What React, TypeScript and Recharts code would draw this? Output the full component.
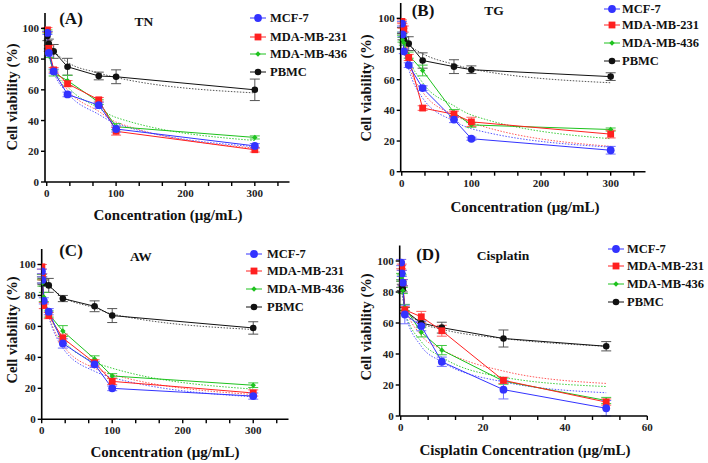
import React from 'react';
import { ComposedChart, Line, XAxis, YAxis, ErrorBar } from 'recharts';

const seriesNames = ['MCF-7', 'MDA-MB-231', 'MDA-MB-436', 'PBMC'];
const colors = ['#3333ff', '#ff2020', '#1ec21e', '#111111'];
const fitColors = ['#5a5aff', '#ff5a5a', '#3ccc3c', '#555555'];
const errColors = ['#7070ff', '#ff6060', '#40c840', '#555555'];
const FONT = '"Liberation Serif", "DejaVu Serif", serif';

// ---------- Panel A (TN) ----------
const concA = [1, 3, 10, 30, 75, 100, 300];
const tnMCF7 = [97, 84, 72, 57, 50, 34.5, 23.5];
const tn231 = [99, 87, 73, 64, 53.5, 33, 21];
const tn436 = [98, 83, 71, 66, 52, 36, 29];
const tnPBMC = [95, 90, 85, 75, 69, 68.5, 60];
const tnMCF7Err = [1, 2, 1.5, 1.5, 2, 2, 1.5];
const tn231Err = [1.5, 2, 1.5, 2, 1.5, 2.5, 1.5];
const tn436Err = [1, 2, 2, 3.5, 1.5, 2, 1];
const tnPBMCErr = [3, 3, 4.5, 5.5, 2.5, 4.5, 7];
const tnMCF7Fit = [95, 86, 72, 58, 44, 38, 23];
const tn231Fit = [97, 88, 74, 60, 46, 39, 22];
const tn436Fit = [96, 87, 74, 62, 48, 42, 27];
const tnPBMCFit = [95, 91, 86, 78, 71, 68, 58];

// ---------- Panel B (TG) ----------
const concB = [0.3, 1, 3, 10, 30, 75, 100, 300];
const tgMCF7 = [96.5, 89.5, 78.5, 69.5, 54.5, 34, 21.5, 14];
const tg231 = [98, 95, 93, 74.5, 41.5, 37.5, 32.5, 24.5];
const tg436 = [90, 86, 84, 76, 66, 38.5, 30.5, 27.5];
const tgPBMC = [92, 88, 86, 83.5, 72.5, 68.5, 66.5, 62];
const tgMCF7Err = [1.5, 1.5, 1.5, 1.5, 1.5, 2, 1, 2.5];
const tg231Err = [1, 1.5, 2, 2, 1.5, 2, 3, 2.5];
const tg436Err = [1, 1.5, 1.5, 2, 3.5, 2, 1.5, 1];
const tgPBMCErr = [2, 2, 2, 4.5, 5, 4.5, 2.5, 2.5];
const tgMCF7Fit = [96, 90, 80, 67, 48, 33, 28, 16];
const tg231Fit = [97, 93, 84, 70, 52, 37, 32, 16.5];
const tg436Fit = [92, 89, 84, 74, 58, 43, 37, 21.5];
const tgPBMCFit = [92, 90, 87, 83, 77, 70, 67, 58];

// ---------- Panel C (AW) ----------
const concC = [0.3, 1, 3, 10, 30, 75, 100, 300];
const awMCF7 = [95.5, 90, 76.5, 69.5, 49, 35.5, 20, 15];
const aw231 = [98.5, 92, 73.5, 67, 52.5, 36.5, 24.5, 17];
const aw436 = [92, 88, 79, 68, 57, 39, 28, 22];
const awPBMC = [90, 89, 88, 86.5, 78, 73, 67, 59];
const awMCF7Err = [1.5, 2, 2, 2, 3, 2, 1.5, 2];
const aw231Err = [1.5, 2, 2, 2, 2.5, 2, 2, 2];
const aw436Err = [1.5, 2, 3, 2, 3.5, 2, 1.5, 1.5];
const awPBMCErr = [2, 2, 2, 4.5, 2, 3.5, 4.5, 4];
const awMCF7Fit = [94, 88, 78, 66, 46, 31, 27, 14.5];
const aw231Fit = [96, 90, 79, 67, 48, 33, 29, 16];
const aw436Fit = [94, 89, 80, 69, 52, 37, 33, 19.5];
const awPBMCFit = [90, 89, 88, 86, 79, 72, 68, 58];

// ---------- Panel D (Cisplatin) ----------
const concD = [0.1, 0.25, 0.5, 1, 5, 10, 25, 50];
const cpMCF7 = [99, 92, 86, 65.5, 58, 35, 17, 5];
const cp231 = [98, 96, 86, 68.5, 64, 55, 23, 9];
const cp436 = [90, 89, 81, 70, 54, 42.5, 22.5, 10];
const cpPBMC = [85, 83, 82, 68, 60, 57, 50, 45];
const cpMCF7Err = [2, 2, 2, 6, 3, 3, 6, 5];
const cp231Err = [3, 2, 2, 2, 3.5, 3.5, 2, 2];
const cp436Err = [2, 2, 2, 2, 3, 3, 2, 2];
const cpPBMCErr = [2, 2, 2, 2, 2, 3.5, 5.5, 3];
const cpMCF7Fit = [95, 88, 80, 67, 45, 35, 22, 15];
const cp231Fit = [97, 92, 85, 72, 52, 43, 29, 21];
const cp436Fit = [95, 89, 81, 68, 48, 38, 25, 19];
const cpPBMCFit = [85, 80, 76, 70, 60, 56, 50, 45];

const yTicks = [0, 20, 40, 60, 80, 100];
const xTicksConc = [0, 100 / 3, 200 / 3, 100, 400 / 3, 500 / 3, 200, 700 / 3, 800 / 3, 300, 1000 / 3];
const xTicksCis = [0, 20 / 3, 40 / 3, 20, 80 / 3, 100 / 3, 40, 140 / 3, 160 / 3, 60];

const mk = (conc: number[], vals: number[], errs?: number[]) =>
  conc.map((x, i) => ({ x, y: vals[i], e: errs ? errs[i] : 0 }));

function Marker({ cx, cy, s }: { cx: number; cy: number; s: number }) {
  if (s === 0) return <circle cx={cx} cy={cy} r={3.9} fill={colors[0]} />;
  if (s === 1) return <rect x={cx - 3.4} y={cy - 3.4} width={6.8} height={6.8} fill={colors[1]} />;
  if (s === 2)
    return (
      <polygon
        points={`${cx},${cy - 2.7} ${cx + 2.7},${cy} ${cx},${cy + 2.7} ${cx - 2.7},${cy}`}
        fill={colors[2]}
      />
    );
  return <circle cx={cx} cy={cy} r={3.3} fill={colors[3]} />;
}

type PanelCfg = {
  ox: number;
  oy: number;
  left: number;
  top: number;
  bottom: number;
  right: number;
  xDomain: [number, number];
  xTicks: number[];
  labelStep: number;
  series: { y: number[]; e: number[]; f: number[] }[];
  conc: number[];
};

function XTick(props: any) {
  const { x, y, payload, labelStep } = props;
  const v = payload.value;
  const r = Math.round(v / labelStep) * labelStep;
  const isMajor = Math.abs(v - r) < 1e-6;
  return (
    <g>
      <line x1={x} x2={x} y1={y} y2={y + 4} stroke="#000" strokeWidth={1.4} />
      {isMajor && (
        <text x={x} y={y + 15} textAnchor="middle" fontSize={11} fontWeight="bold" fontFamily={FONT} fill="#222">
          {r}
        </text>
      )}
    </g>
  );
}

function YTick(props: any) {
  const { x, y, payload } = props;
  return (
    <g>
      <line x1={x - 4} x2={x} y1={y} y2={y} stroke="#000" strokeWidth={1.4} />
      <text x={x - 6} y={y + 4} textAnchor="end" fontSize={11} fontWeight="bold" fontFamily={FONT} fill="#222">
        {payload.value}
      </text>
    </g>
  );
}

function Panel({ cfg }: { cfg: PanelCfg }) {
  const W = 354;
  const H = 232;
  const order = [3, 2, 1, 0];
  return (
    <div style={{ position: 'absolute', left: cfg.ox, top: cfg.oy, width: W, height: H }}>
      <ComposedChart
        width={W}
        height={H}
        margin={{ top: cfg.top, right: W - cfg.right, bottom: H - cfg.bottom - 25, left: cfg.left - 30 }}
      >
        <XAxis
          type="number"
          dataKey="x"
          domain={cfg.xDomain}
          ticks={cfg.xTicks}
          interval={0}
          height={25}
          allowDataOverflow
          tickSize={0}
          tickMargin={0}
          tickLine={false}
          axisLine={{ stroke: '#000', strokeWidth: 1.6 }}
          tick={(p: any) => <XTick {...p} labelStep={cfg.labelStep} />}
        />
        <YAxis
          type="number"
          dataKey="y"
          domain={[0, 110]}
          ticks={yTicks}
          interval={0}
          width={30}
          allowDataOverflow
          tickSize={0}
          tickMargin={0}
          tickLine={false}
          axisLine={{ stroke: '#000', strokeWidth: 1.6 }}
          tick={(p: any) => <YTick {...p} />}
        />
        {order.map((s) => (
          <Line
            key={'fit' + s}
            data={mk(cfg.conc, cfg.series[s].f)}
            dataKey="y"
            type="monotone"
            stroke={fitColors[s]}
            strokeWidth={1}
            strokeDasharray="1.5 1.5"
            dot={false}
            activeDot={false}
            isAnimationActive={false}
          />
        ))}
        {order.map((s) => (
          <Line
            key={'data' + s}
            data={mk(cfg.conc, cfg.series[s].y, cfg.series[s].e)}
            dataKey="y"
            type="linear"
            stroke={colors[s]}
            strokeWidth={1}
            activeDot={false}
            isAnimationActive={false}
            dot={(p: any) => (
              <g key={'d' + s + '-' + p.index}>
                <Marker cx={p.cx} cy={p.cy} s={s} />
              </g>
            )}
          >
            <ErrorBar dataKey="e" direction="y" width={5} stroke={errColors[s]} strokeWidth={1} />
          </Line>
        ))}
      </ComposedChart>
    </div>
  );
}

const boldText = (
  text: string,
  cx: number,
  cy: number,
  size: number,
  rotate = false,
  key?: string
) => (
  <div
    key={key}
    style={{
      position: 'absolute',
      left: cx,
      top: cy,
      transform: `translate(-50%, -50%)${rotate ? ' rotate(-90deg)' : ''}`,
      fontFamily: FONT,
      fontWeight: 'bold',
      fontSize: size,
      lineHeight: 1,
      whiteSpace: 'nowrap',
      color: '#111',
    }}
  >
    {text}
  </div>
);

function Legend({ mx, tx, rows }: { mx: number; tx: number; rows: number[] }) {
  return (
    <>
      {rows.map((ry, s) => (
        <React.Fragment key={'lg' + s}>
          <svg style={{ position: 'absolute', left: mx - 8, top: ry - 5 }} width={16} height={10}>
            <line x1={0} x2={16} y1={5} y2={5} stroke={colors[s]} strokeWidth={1} />
            <Marker cx={8} cy={5} s={s} />
          </svg>
          <div
            style={{
              position: 'absolute',
              left: tx,
              top: ry,
              transform: 'translateY(-50%)',
              fontFamily: FONT,
              fontWeight: 'bold',
              fontSize: 12.5,
              lineHeight: 1,
              whiteSpace: 'nowrap',
              color: '#111',
            }}
          >
            {seriesNames[s]}
          </div>
        </React.Fragment>
      ))}
    </>
  );
}

const panelA: PanelCfg = {
  ox: 0, oy: 0, left: 45, top: 13, bottom: 182, right: 289.5,
  xDomain: [-2.5, 350], xTicks: xTicksConc, labelStep: 100, conc: concA,
  series: [
    { y: tnMCF7, e: tnMCF7Err, f: tnMCF7Fit },
    { y: tn231, e: tn231Err, f: tn231Fit },
    { y: tn436, e: tn436Err, f: tn436Fit },
    { y: tnPBMC, e: tnPBMCErr, f: tnPBMCFit },
  ],
};
const panelB: PanelCfg = {
  ox: 354, oy: 0, left: 46.7, top: 3, bottom: 171.7, right: 291.5,
  xDomain: [-1.5, 350], xTicks: xTicksConc, labelStep: 100, conc: concB,
  series: [
    { y: tgMCF7, e: tgMCF7Err, f: tgMCF7Fit },
    { y: tg231, e: tg231Err, f: tg231Fit },
    { y: tg436, e: tg436Err, f: tg436Fit },
    { y: tgPBMC, e: tgPBMCErr, f: tgPBMCFit },
  ],
};
const panelC: PanelCfg = {
  ox: 0, oy: 232, left: 41.7, top: 17, bottom: 187.3, right: 288.5,
  xDomain: [0, 350], xTicks: xTicksConc, labelStep: 100, conc: concC,
  series: [
    { y: awMCF7, e: awMCF7Err, f: awMCF7Fit },
    { y: aw231, e: aw231Err, f: aw231Fit },
    { y: aw436, e: aw436Err, f: aw436Fit },
    { y: awPBMC, e: awPBMCErr, f: awPBMCFit },
  ],
};
const panelD: PanelCfg = {
  ox: 354, oy: 232, left: 45.7, top: 13.5, bottom: 184, right: 293.3,
  xDomain: [-0.25, 60], xTicks: xTicksCis, labelStep: 20, conc: concD,
  series: [
    { y: cpMCF7, e: cpMCF7Err, f: cpMCF7Fit },
    { y: cp231, e: cp231Err, f: cp231Fit },
    { y: cp436, e: cp436Err, f: cp436Fit },
    { y: cpPBMC, e: cpPBMCErr, f: cpPBMCFit },
  ],
};

export default function App() {
  return (
    <div style={{ position: 'absolute', left: 0, top: 0, width: 708, height: 463, background: '#fff', overflow: 'hidden' }}>
      <Panel cfg={panelA} />
      <Panel cfg={panelB} />
      <Panel cfg={panelC} />
      <Panel cfg={panelD} />

      {boldText('(A)', 71, 18, 17)}
      {boldText('TN', 144, 22, 13.5)}
      {boldText('Cell viability (%)', 12, 97, 14.5, true)}
      {boldText('Concentration (\u00b5g/mL)', 168, 215, 15)}
      <Legend mx={258} tx={270} rows={[18, 37, 54, 72]} />

      {boldText('(B)', 423, 10, 17)}
      {boldText('TG', 494, 11, 13.5)}
      {boldText('Cell viability (%)', 366, 88, 14.5, true)}
      {boldText('Concentration (\u00b5g/mL)', 525, 207, 15)}
      <Legend mx={612} tx={622} rows={[9, 25, 43, 61]} />

      {boldText('(C)', 71, 250, 17)}
      {boldText('AW', 141, 257, 13.5)}
      {boldText('Cell viability (%)', 12, 330, 14.5, true)}
      {boldText('Concentration (\u00b5g/mL)', 165, 452, 15)}
      <Legend mx={254} tx={267} rows={[254, 271, 289, 307]} />

      {boldText('(D)', 428, 254, 17)}
      {boldText('Cisplatin', 503, 256, 13.5)}
      {boldText('Cell viability (%)', 366, 327, 14.5, true)}
      {boldText('Cisplatin Concentration (\u00b5g/mL)', 525, 450, 15)}
      <Legend mx={616} tx={627} rows={[249, 266, 284, 302]} />
    </div>
  );
}
